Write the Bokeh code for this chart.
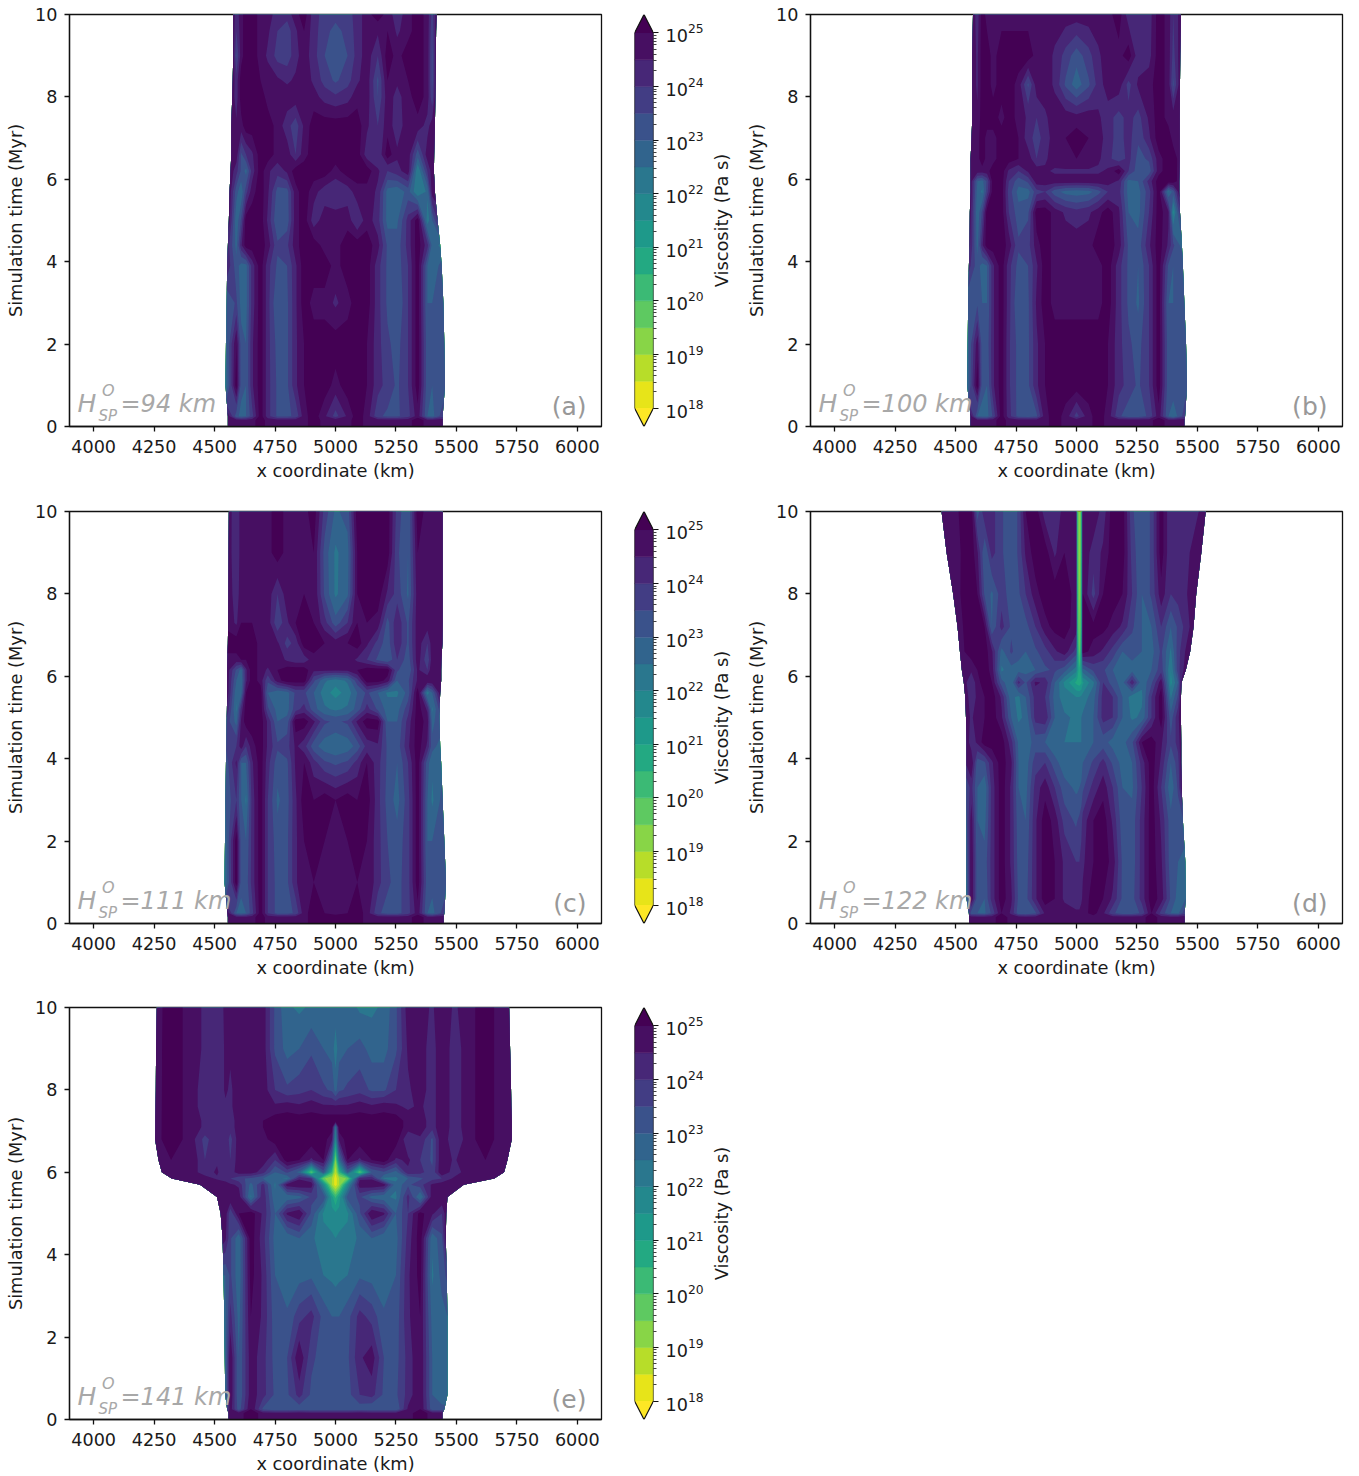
import numpy as np
from bokeh.embed import file_html
from bokeh.resources import INLINE
from bokeh.plotting import figure
from bokeh.layouts import column, row
from bokeh.models import FixedTicker, Label, LogTicker, Range1d
from bokeh.palettes import Viridis256

# ---------------- colour levels (log10 viscosity) ----------------
LEVELS = [18 + 0.5 * i for i in range(15)]
X_TICKS = [4000, 4250, 4500, 4750, 5000, 5250, 5500, 5750, 6000]
Y_TICKS = [0, 2, 4, 6, 8, 10]

# x positions (km) of the columns for panels a, b and c. Outer ones are pinned to the plate edges.
COLS_ABC = [0, 4590, 4610, 4630, 4655, 4690, 4720, 4760, 4800, 4835, 4870, 4910, 4955, 5000, 5050, 5090, 5130, 5175,
            5215, 5255, 5300, 5340, 5380, 5400, 9999]

# ---------------- panel (a) ----------------
TIMES_A = [10, 9.6, 9, 8.4, 8, 7.3, 6.6, 6.2, 5.7, 5, 4.4, 3.9, 3, 2, 1, .25, .15, 0]
LEFT_A = [4577, 4577, 4577, 4575, 4573, 4569, 4569, 4566, 4562, 4559, 4555, 4552, 4550, 4547, 4545, 4555, 4555, 4555]
RIGHT_A = [5418, 5416, 5415, 5414, 5413, 5411, 5408, 5407, 5411, 5422, 5433, 5439, 5446, 5450, 5453, 5443, 5443, 5443]
LOGV_A = [
 [24.8,24.2,24.8,25.3,25.3,24.8,24.8,24.2,24.2,24.8,25.3,24.2,23.8,23.7,23.8,24.2,24.8,25.3,24.8,24.2,24.8,25.3,24.8,23.8,24.8],
 [24.8,24.0,24.8,25.3,25.3,24.8,24.6,24.0,23.7,24.4,25.0,24.2,23.7,23.3,23.7,24.2,24.8,24.6,25.0,24.4,24.8,25.3,24.8,23.6,24.8],
 [24.8,23.4,24.8,25.3,25.3,24.8,24.4,23.8,23.7,24.3,24.8,24.2,23.5,23.1,23.5,24.2,24.8,24.0,25.3,24.8,25.3,25.3,24.8,23.4,24.8],
 [24.8,24.2,25.3,25.3,25.3,25.0,24.8,24.6,24.4,24.6,24.8,24.4,23.8,23.4,23.8,24.4,24.8,23.4,25.0,24.6,25.0,25.3,24.8,23.4,24.8],
 [24.8,24.2,25.3,25.3,25.3,25.3,24.8,24.8,24.8,24.8,24.8,24.7,24.3,24.1,24.3,24.8,24.8,23.5,24.8,24.3,24.8,25.3,24.8,23.6,24.8],
 [24.8,24.6,24.8,25.3,25.3,25.3,25.3,24.8,24.2,23.7,24.6,25.3,25.3,25.3,25.3,25.3,24.6,24.0,24.8,24.2,24.8,24.8,24.3,24.8,24.8],
 [24.8,24.8,23.4,24.0,24.4,25.3,25.3,24.8,24.8,24.0,24.8,25.3,25.3,25.3,25.3,25.3,24.2,24.0,25.3,24.6,24.8,23.2,24.8,24.8,24.8],
 [24.8,24.2,23.4,22.8,24.2,25.3,24.6,24.2,24.6,25.3,25.3,25.3,25.3,24.8,25.3,25.3,25.3,24.6,24.0,24.3,24.8,22.0,24.0,24.8,24.8],
 [24.8,23.2,22.6,23.8,24.8,25.3,24.6,23.3,23.3,24.8,25.3,24.7,24.2,24.0,24.2,24.8,24.8,24.4,22.8,22.6,23.2,22.0,22.6,24.8,24.8],
 [24.8,22.6,23.6,25.3,25.3,25.3,24.4,23.0,23.2,24.8,25.3,24.2,24.8,24.8,24.8,24.0,24.8,24.2,22.8,22.9,24.2,25.3,22.2,23.0,24.0],
 [24.2,22.8,24.4,25.3,25.3,25.3,24.8,23.6,23.9,24.8,25.3,25.3,24.8,24.8,25.3,25.3,25.3,24.7,23.4,23.2,24.2,25.3,24.2,22.8,22.4],
 [24.4,23.2,22.8,22.8,24.2,25.3,24.2,23.4,23.5,24.4,25.3,25.3,25.3,24.8,25.3,25.3,25.3,24.2,23.4,23.2,24.0,25.3,23.0,22.6,23.2],
 [23.0,23.6,22.8,22.8,24.2,25.3,24.2,23.0,23.4,24.4,25.3,24.8,24.8,24.4,24.8,25.3,25.3,24.2,23.4,23.0,24.0,25.3,23.0,23.0,23.4],
 [22.8,25.0,23.2,23.0,24.4,25.3,24.2,23.3,23.4,24.4,25.0,25.3,25.3,25.3,25.3,25.3,25.0,24.2,23.6,23.3,24.0,25.3,23.2,23.2,23.4],
 [22.4,25.3,23.2,23.0,24.4,25.3,24.2,23.4,23.4,24.4,25.0,25.3,25.3,24.8,25.3,25.3,25.0,24.2,23.8,23.4,24.0,25.3,23.2,23.0,23.2],
 [24.8,23.2,22.8,23.0,23.8,25.3,24.2,23.4,23.4,23.6,24.8,25.3,24.6,23.8,24.6,25.3,24.8,23.6,23.4,23.4,23.8,24.8,23.0,22.8,23.8],
 [24.8,24.8,24.8,24.8,24.8,25.3,24.8,24.8,24.8,24.8,24.8,25.3,24.8,24.8,24.8,25.3,24.8,24.8,24.8,24.8,24.8,25.3,24.8,24.8,24.8],
 [24.8,24.8,24.8,24.8,24.8,25.3,24.8,24.8,24.8,24.8,24.8,25.3,24.8,24.8,24.8,25.3,24.8,24.8,24.8,24.8,24.8,25.3,24.8,24.8,24.8],
]

# ---------------- panel (b) ----------------
TIMES_B = [10, 9, 8.3, 7.5, 7, 6.5, 6.2, 5.95, 5.7, 5.2, 4.4, 3.9, 3, 2, 1, .25, .15, 0]
LEFT_B = [4572, 4569, 4569, 4569, 4566, 4562, 4562, 4562, 4562, 4559, 4558, 4555, 4552, 4550, 4548, 4562, 4562, 4562]
RIGHT_B = [5432, 5429, 5428, 5427, 5427, 5427, 5426, 5425, 5425, 5428, 5436, 5440, 5446, 5453, 5457, 5449, 5446, 5446]
LOGV_B = [
 [24.8,24.2,25.3,24.8,24.8,24.8,24.8,24.8,24.8,24.8,24.8,24.8,24.8,24.8,24.8,24.8,24.8,25.3,24.2,24.0,24.2,25.3,24.8,24.0,24.8],
 [24.8,24.4,25.3,25.3,24.8,25.3,25.3,25.3,25.3,24.8,24.8,24.4,23.8,23.2,23.8,24.4,24.8,24.8,25.3,24.2,24.3,25.3,24.8,23.8,24.8],
 [24.8,24.4,25.3,25.3,24.8,25.3,25.3,24.8,23.4,24.8,24.8,24.4,23.4,22.7,23.4,24.2,24.8,24.8,23.8,24.6,24.8,25.3,24.8,23.4,24.8],
 [24.8,24.6,25.3,25.3,25.3,24.8,25.3,24.8,24.4,24.0,24.4,24.8,24.8,24.7,24.8,24.6,24.2,23.8,24.2,23.8,24.6,25.3,24.8,24.8,24.8],
 [24.8,24.8,25.3,24.8,24.8,25.3,25.3,25.0,24.2,23.8,24.2,24.8,25.0,25.3,25.0,24.8,24.2,23.8,24.2,23.6,24.4,25.3,25.3,24.8,24.8],
 [24.8,24.8,25.3,24.8,24.8,25.3,25.3,25.0,24.8,24.0,24.4,24.8,25.0,25.0,25.0,24.6,24.2,23.6,24.2,23.3,23.6,24.8,25.3,25.3,24.8],
 [24.8,24.8,24.8,24.8,25.3,25.3,24.4,24.0,24.6,24.8,24.6,24.4,24.4,24.4,24.4,24.4,24.6,25.3,24.0,23.2,23.2,24.8,25.3,25.3,24.8],
 [24.8,23.0,22.8,23.6,25.3,25.3,24.0,23.2,23.6,24.8,24.8,24.8,24.8,24.8,24.8,24.8,24.8,24.4,22.8,23.0,24.2,25.3,25.3,25.3,24.8],
 [24.8,22.8,22.4,23.8,25.3,25.3,23.8,22.8,22.8,23.8,24.0,23.2,22.8,22.7,22.8,23.3,24.0,24.2,22.8,22.8,23.8,25.3,22.4,23.2,24.8],
 [24.8,22.6,23.6,25.3,25.3,25.3,24.0,23.2,23.4,25.3,25.3,24.8,24.4,24.2,24.4,24.8,25.3,24.6,23.0,22.8,24.0,25.3,24.6,21.8,23.8],
 [24.6,22.8,24.4,25.3,25.3,25.3,24.8,23.6,23.8,24.8,25.3,24.8,24.8,24.8,24.8,25.3,25.3,24.8,23.4,23.2,24.4,25.3,24.4,23.6,22.8],
 [24.2,23.2,22.8,23.0,24.4,25.3,24.2,23.3,23.5,24.4,25.3,24.8,24.8,24.8,24.8,24.8,25.3,24.2,23.4,23.0,24.0,25.3,23.4,23.0,23.4],
 [23.0,23.4,23.0,23.0,24.4,25.3,24.2,23.0,23.4,24.6,25.3,24.8,24.8,24.8,24.8,24.8,25.3,24.2,23.4,22.9,24.0,25.3,23.0,23.0,23.4],
 [22.8,24.8,23.2,23.2,24.4,25.3,24.1,23.3,23.4,24.4,25.0,25.3,25.3,25.3,25.3,25.3,25.0,24.2,23.6,23.3,24.0,25.3,23.2,23.2,23.2],
 [22.6,25.3,23.2,23.0,24.4,25.3,24.1,23.3,23.4,24.4,25.0,25.3,25.3,25.3,25.3,25.3,25.0,24.2,23.8,23.4,24.0,25.3,23.2,23.4,23.4],
 [24.8,23.0,22.8,22.8,23.6,25.3,24.2,23.3,23.2,23.4,24.8,25.3,24.8,23.8,24.8,25.3,24.8,23.6,23.2,23.2,23.6,24.8,23.0,22.6,23.8],
 [24.8,24.8,24.8,24.8,24.8,25.3,24.8,24.8,24.8,24.8,24.8,25.3,24.8,24.8,24.8,25.3,24.8,24.8,24.8,24.8,24.8,25.3,24.8,24.8,24.8],
 [24.8,24.8,24.8,24.8,24.8,25.3,24.8,24.8,24.8,24.8,24.8,25.3,24.8,24.8,24.8,25.3,24.8,24.8,24.8,24.8,24.8,25.3,24.8,24.8,24.8],
]

# ---------------- panel (c) ----------------
TIMES_C = [10, 9, 8, 7.3, 6.8, 6.4, 6.15, 5.9, 5.6, 5.2, 4.9, 4.3, 3.9, 3, 2, 1, .25, .15, 0]
LEFT_C = [4559, 4558, 4557, 4556, 4555, 4553, 4552, 4552, 4552, 4551, 4550, 4549, 4547, 4545, 4543, 4541, 4553, 4555, 4555]
RIGHT_C = [5443, 5443, 5443, 5443, 5442, 5438, 5437, 5437, 5433, 5430, 5430, 5433, 5437, 5443, 5450, 5457, 5450, 5447, 5447]
LOGV_C = [
 [24.8,24.0,24.8,24.8,24.8,24.8,24.8,25.3,24.8,24.8,24.8,25.3,23.8,22.9,23.2,25.3,25.3,25.3,25.3,23.8,23.0,25.3,24.8,24.8,24.8],
 [24.8,24.0,24.8,24.8,24.8,24.8,24.8,25.3,24.8,24.8,24.8,25.0,23.3,22.4,22.8,25.0,25.3,25.3,25.3,23.6,23.0,25.0,24.8,24.8,24.8],
 [24.8,24.2,24.8,24.8,24.8,24.8,24.8,24.0,24.8,24.8,25.0,25.0,23.4,22.4,22.9,25.0,25.3,25.3,24.4,23.8,22.9,24.8,24.8,24.8,24.8],
 [24.8,24.4,25.0,25.0,25.0,24.8,24.8,23.6,24.4,25.0,25.3,25.0,24.2,23.2,24.0,25.0,25.0,24.8,23.3,24.4,23.4,24.8,24.8,24.8,24.8],
 [25.3,25.3,25.3,25.3,25.3,24.8,24.8,24.6,23.8,24.2,25.3,25.3,25.0,24.8,25.0,25.3,24.6,23.8,23.2,24.4,23.4,24.8,24.0,24.8,24.8],
 [24.8,24.8,25.0,25.0,25.3,24.8,24.8,24.8,24.4,24.2,24.2,24.8,24.8,24.8,24.8,24.4,24.0,23.4,23.0,24.0,23.2,24.8,23.6,24.8,24.8],
 [24.8,23.4,22.8,24.4,25.3,24.8,24.4,25.0,25.3,25.3,25.3,24.6,24.6,24.6,24.6,25.0,25.3,25.3,25.3,23.6,23.0,24.6,24.0,25.0,24.8],
 [24.8,23.0,22.6,24.4,25.3,24.8,23.6,24.8,25.3,25.3,25.3,23.6,22.6,22.2,22.6,23.8,25.3,25.3,24.8,23.0,23.4,24.6,25.0,25.0,24.8],
 [24.8,22.6,22.8,25.0,25.3,25.3,23.0,22.6,22.8,23.6,23.6,23.0,22.2,21.8,22.2,23.0,23.6,23.0,22.4,22.4,23.2,25.3,22.2,23.0,24.8],
 [24.4,22.4,24.2,25.3,25.3,25.3,23.6,22.8,22.8,23.8,24.2,23.2,22.6,22.4,22.6,23.2,24.2,23.4,22.8,22.8,23.8,25.3,24.4,22.4,23.6],
 [23.8,22.8,24.6,25.3,25.3,25.3,24.4,23.0,23.2,25.3,25.3,24.6,23.6,23.4,23.6,24.6,25.3,25.3,23.0,23.0,24.2,25.3,24.8,22.8,23.4],
 [23.6,24.0,24.8,24.0,24.8,25.3,24.4,23.6,23.8,24.6,24.2,23.2,22.7,22.5,22.7,23.2,24.2,24.4,23.4,23.2,24.4,25.3,24.4,23.2,22.8],
 [23.2,24.6,23.0,23.0,24.4,25.3,24.2,23.2,23.4,24.6,25.0,24.2,23.6,23.4,23.6,24.2,25.0,24.2,23.4,23.0,24.0,25.3,23.2,22.6,22.8],
 [23.0,24.0,23.0,22.4,24.2,25.3,24.0,22.9,23.3,24.4,25.3,25.0,25.3,25.0,25.3,25.0,25.3,24.2,23.3,22.8,23.8,25.3,23.0,22.4,23.2],
 [22.6,25.3,23.2,23.0,24.2,25.3,24.0,23.2,23.4,24.4,25.0,25.3,25.0,24.8,25.0,25.3,25.0,24.2,23.5,23.2,23.8,25.3,23.0,23.0,23.2],
 [22.4,25.3,23.2,23.2,24.2,25.3,24.0,23.3,23.4,24.4,25.0,25.0,24.8,24.6,24.8,25.0,25.0,24.2,23.6,23.3,23.8,25.3,23.2,23.2,23.2],
 [24.8,23.0,22.8,23.0,23.8,25.3,24.0,23.3,23.3,23.6,24.8,25.3,25.0,24.8,25.0,25.3,24.8,23.6,23.3,23.3,23.8,24.8,23.0,22.8,23.8],
 [24.8,24.8,24.8,24.8,24.8,25.3,24.8,24.8,24.8,24.8,24.8,25.3,25.3,25.3,25.3,25.3,24.8,24.8,24.8,24.8,24.8,25.3,24.8,24.8,24.8],
 [24.8,24.8,24.8,24.8,24.8,25.3,24.8,24.8,24.8,24.8,24.8,25.3,25.3,25.3,25.3,25.3,24.8,24.8,24.8,24.8,24.8,25.3,24.8,24.8,24.8],
]

# ---------------- panel (d) ----------------
COLS_D = [0, 4565, 4590, 4620, 4650, 4690, 4730, 4760, 4790, 4830, 4870, 4910, 4950, 4998, 5004, 5012, 5020, 5026, 5070, 5110, 5150,
          5190, 5230, 5270, 5310, 5350, 5390, 5420, 9999]
TIMES_D = [10, 9, 8, 7.2, 6.6, 6.15, 5.85, 5.5, 5, 4.4, 3.9, 3.3, 2.5, 1.5, .6, .25, .15, 0]
LEFT_D = [4442, 4463, 4490, 4508, 4518, 4526, 4534, 4540, 4543, 4545, 4545, 4545, 4545, 4545, 4545, 4555, 4556, 4556]
RIGHT_D = [5534, 5516, 5495, 5484, 5470, 5452, 5434, 5432, 5432, 5433, 5433, 5435, 5440, 5450, 5452, 5447, 5447, 5447]
LOGV_D = [
 [24.6,25.3,23.2,24.4,24.2,23.6,23.0,23.6,25.0,25.3,24.2,24.0,24.8,24.6,20.0,19.2,20.0,25.0,25.0,24.2,25.3,25.3,23.6,23.0,23.6,25.3,24.0,24.2,24.6],
 [24.6,25.3,24.6,23.0,24.2,23.6,23.0,23.6,24.6,25.3,25.3,24.4,25.0,24.8,20.0,19.2,20.0,25.0,24.2,24.6,25.3,25.3,23.8,23.0,23.6,25.3,24.0,24.4,24.6],
 [24.8,25.3,25.0,23.4,22.9,23.8,23.2,23.4,24.0,24.8,25.3,25.3,25.3,24.8,20.2,19.3,20.2,25.0,23.8,25.0,25.3,25.0,24.0,23.0,23.6,24.8,24.0,24.2,24.8],
 [24.8,25.3,25.3,25.0,23.0,24.2,23.4,23.2,23.3,24.0,24.8,25.2,25.2,24.8,20.4,19.5,20.4,25.2,25.2,25.2,24.8,24.4,23.6,23.0,23.0,24.0,23.0,23.6,24.8],
 [24.8,25.3,25.3,25.3,24.6,22.8,23.6,23.2,23.0,23.4,23.8,24.4,24.8,23.8,21.0,19.8,21.0,25.2,24.8,24.4,23.8,23.0,23.2,23.0,22.8,23.6,22.4,23.8,25.0],
 [24.8,24.6,25.0,25.3,24.8,22.4,22.8,22.8,22.8,23.0,23.4,23.6,23.2,22.2,21.4,20.6,21.4,22.8,23.6,23.6,23.0,22.6,22.8,22.6,23.0,23.8,22.0,23.8,24.8],
 [24.8,24.0,24.8,25.3,25.0,23.2,22.6,24.2,23.4,24.6,24.4,23.0,21.9,20.9,20.8,20.7,20.9,21.4,22.4,24.0,23.2,22.8,24.4,22.6,23.4,24.8,21.8,23.0,24.8],
 [24.8,24.2,24.6,25.0,25.3,24.4,22.6,22.4,23.0,24.2,24.0,22.8,22.2,22.0,22.0,22.0,22.1,22.2,22.8,24.2,24.0,23.0,22.2,22.4,24.0,25.3,22.4,23.6,24.8],
 [24.8,24.4,24.8,25.0,25.3,24.6,23.0,22.4,22.6,24.2,24.4,23.0,22.6,22.4,22.4,22.4,22.5,22.6,23.0,24.2,24.0,23.0,22.4,22.6,24.0,25.3,23.2,24.4,24.8],
 [24.8,24.2,24.6,25.3,25.3,25.3,24.2,22.9,22.7,23.2,23.0,22.6,22.5,22.5,22.5,22.5,22.5,22.6,23.0,23.2,22.8,22.8,23.4,25.0,25.3,24.6,23.6,24.2,24.8],
 [24.6,25.0,23.2,23.4,24.4,25.3,24.6,23.0,22.7,23.8,24.0,23.2,22.7,22.6,22.6,22.6,22.7,23.0,23.6,24.2,23.4,22.8,23.0,24.2,25.3,24.4,23.0,23.8,24.8],
 [23.6,24.2,23.0,22.6,24.2,25.3,24.4,23.0,22.8,24.2,24.8,24.0,23.2,22.9,22.9,23.0,23.1,23.4,24.2,24.8,24.0,23.0,22.9,24.0,25.3,24.0,22.6,23.6,24.8],
 [23.4,24.8,23.0,22.8,24.2,25.3,24.4,23.2,23.0,24.4,25.3,24.8,23.8,23.4,23.5,23.6,23.8,24.2,25.0,25.3,24.4,23.2,23.2,24.2,25.3,24.4,23.2,23.2,23.4],
 [23.0,25.0,23.2,23.2,24.2,25.3,24.4,23.3,23.2,24.4,25.3,25.0,24.4,24.0,24.0,24.0,24.2,24.4,25.0,25.3,24.8,23.4,23.2,24.2,25.3,24.6,23.2,23.0,22.8],
 [22.8,25.0,23.2,23.0,24.2,25.3,24.6,23.4,23.3,24.4,25.3,25.0,24.4,24.2,24.2,24.2,24.4,24.6,25.3,25.0,24.4,23.4,23.3,24.2,25.3,24.8,23.4,22.8,23.0],
 [24.0,23.2,23.0,22.9,23.6,25.0,24.4,23.2,23.0,23.4,24.6,25.0,24.8,24.6,24.6,24.6,24.7,24.8,25.2,24.6,23.6,23.2,23.2,23.6,25.0,23.8,23.0,22.9,23.8],
 [24.8,24.8,24.8,24.8,24.8,25.3,24.8,24.8,24.8,24.8,24.8,24.8,24.8,24.8,24.8,24.8,24.8,24.8,24.8,24.8,24.8,24.8,24.8,24.8,25.3,24.8,24.8,24.8,24.8],
 [24.8,24.8,24.8,24.8,24.8,25.3,24.8,24.8,24.8,24.8,24.8,24.8,24.8,24.8,24.8,24.8,24.8,24.8,24.8,24.8,24.8,24.8,24.8,24.8,25.3,24.8,24.8,24.8,24.8],
]

# ---------------- panel (e) ----------------
COLS_E = [0, 4320, 4400, 4460, 4510, 4545, 4565, 4600, 4650, 4700, 4750, 4800, 4850, 4900, 4950, 4985, 5000, 5015, 5050,
          5100, 5150, 5200, 5250, 5300, 5350, 5400, 5440, 5490, 5550, 5620, 5680, 9999]
TIMES_E = [10, 9, 8, 7.6, 7.25, 7.1, 6.8, 6.3, 6, 5.85, 5.7, 5.4, 5, 4.4, 3.5, 2.5, 1.5, .6, .25, .15, 0]
LEFT_E = [4261, 4258, 4257, 4256, 4255, 4255, 4254, 4268, 4282, 4323, 4440, 4510, 4525, 4533, 4537, 4540, 4542, 4544, 4552, 4558, 4558]
RIGHT_E = [5718, 5722, 5726, 5727, 5729, 5729, 5729, 5711, 5697, 5656, 5530, 5463, 5458, 5456, 5460, 5463, 5463, 5463, 5450, 5442, 5442]
LOGV_E = [
 [24.8,25.3,24.8,24.4,24.2,24.6,24.6,24.8,24.8,24.8,23.4,22.6,22.4,22.6,22.8,22.8,22.8,22.8,22.8,22.4,22.4,22.6,23.4,24.8,24.8,24.4,25.0,24.4,24.8,25.3,24.8,24.8],
 [24.8,25.3,24.8,24.4,24.0,24.6,24.6,24.8,24.8,24.8,23.4,22.8,23.0,23.4,23.0,22.8,22.2,22.8,23.0,23.2,22.8,22.8,23.4,24.6,24.8,24.2,25.0,24.2,24.8,25.3,24.8,24.8],
 [24.8,25.3,24.8,24.2,24.0,24.6,24.4,24.8,24.8,24.8,24.0,23.6,23.8,24.0,23.6,23.4,22.8,23.4,23.6,23.8,23.4,23.4,24.0,24.4,24.8,24.2,25.0,24.2,24.8,25.3,24.8,24.8],
 [24.8,25.3,24.8,24.2,24.0,24.4,24.4,24.8,24.8,24.8,24.6,24.8,24.6,24.8,24.6,24.6,24.6,24.6,24.6,24.8,24.6,24.8,24.6,24.4,24.6,24.2,25.0,24.2,24.8,25.3,24.8,24.8],
 [24.8,25.3,24.8,24.4,24.2,24.4,24.2,24.8,24.8,25.0,25.3,25.3,25.3,25.3,25.3,25.3,25.3,25.3,25.3,25.3,25.3,25.3,25.3,24.8,24.8,24.2,25.0,24.2,24.8,25.3,24.8,24.8],
 [24.8,25.3,24.8,24.4,24.2,24.4,24.2,24.8,24.8,25.0,25.3,25.3,25.3,25.3,25.3,25.3,22.4,25.3,25.3,25.3,25.3,25.3,25.3,24.8,24.8,24.2,25.0,24.2,24.8,25.3,24.8,24.8],
 [24.8,25.3,24.8,23.8,24.4,24.4,23.8,24.8,24.8,24.8,25.3,25.3,25.3,25.3,25.3,24.6,21.8,24.6,25.3,25.3,25.3,25.3,25.3,24.0,24.4,23.4,25.0,24.0,24.8,25.3,24.8,24.8],
 [24.8,25.0,25.0,24.0,24.4,24.4,24.0,24.8,25.0,24.8,24.0,25.3,25.0,24.4,25.0,22.6,19.4,22.6,25.0,24.4,25.0,25.3,24.4,24.6,24.0,23.4,25.0,24.4,25.0,25.0,24.8,24.8],
 [24.8,24.8,24.8,24.2,24.6,24.0,24.2,24.8,24.8,24.2,23.0,23.6,22.8,19.9,23.2,20.4,18.6,20.4,23.0,19.9,23.0,23.4,22.8,24.4,24.2,23.6,25.0,24.2,24.8,24.8,24.8,24.8],
 [24.8,24.8,24.8,24.8,24.4,24.2,24.0,23.6,23.4,23.0,22.6,22.4,24.4,24.0,19.6,19.0,18.2,19.0,19.6,24.4,24.4,22.4,22.4,23.0,23.4,23.8,24.0,24.6,24.8,24.8,24.8,24.8],
 [24.8,24.8,24.8,24.8,25.0,24.8,24.6,24.4,22.8,24.2,22.4,24.8,25.0,24.8,21.8,19.0,18.2,19.0,21.8,24.8,25.0,24.8,22.6,23.4,23.8,24.6,24.8,24.8,24.8,24.8,24.8,24.8],
 [24.8,24.8,24.8,24.8,24.8,25.0,25.0,24.8,22.4,24.4,22.6,22.6,22.8,23.6,23.4,21.2,20.4,21.2,23.2,23.6,22.8,22.6,22.4,24.2,22.4,24.8,25.0,24.8,24.8,24.8,24.8,24.8],
 [24.8,24.8,24.8,24.8,24.8,24.8,23.6,25.0,25.3,24.4,23.0,24.6,25.0,23.4,21.9,21.7,21.6,21.7,21.9,23.4,25.0,24.6,23.0,24.0,25.2,24.6,24.0,24.8,24.8,24.8,24.8,24.8],
 [24.8,24.8,24.8,24.8,24.8,24.6,23.6,22.6,25.3,24.2,22.8,22.6,23.0,22.6,22.2,22.1,22.0,22.1,22.2,22.6,23.0,22.6,22.8,24.2,25.3,22.6,23.4,24.8,24.8,24.8,24.8,24.8],
 [23.0,23.0,23.0,23.0,23.0,23.0,23.6,22.6,25.2,24.4,23.0,22.6,22.8,22.9,22.5,22.4,22.3,22.4,22.5,22.9,22.8,22.6,23.0,24.4,25.2,22.4,23.2,23.6,23.6,23.6,23.6,23.6],
 [22.8,22.8,22.8,22.8,22.8,22.8,24.2,22.8,25.0,24.4,23.2,23.1,23.8,24.2,23.3,23.0,23.0,23.0,23.3,24.2,23.8,23.1,23.2,24.4,25.0,22.8,22.8,23.0,23.0,23.0,23.0,23.0],
 [22.8,22.8,22.8,22.8,22.8,22.8,25.0,23.0,24.8,24.2,23.3,23.5,25.0,23.6,23.3,23.2,23.2,23.2,23.4,24.4,24.8,23.5,23.3,24.2,25.0,23.0,22.6,22.6,22.6,22.6,22.6,22.6],
 [22.8,22.8,22.8,22.8,22.8,22.8,25.0,23.0,24.8,24.2,23.4,23.4,24.2,23.4,23.3,23.2,23.1,23.2,23.3,24.0,24.2,23.4,23.4,24.2,25.0,23.0,22.6,22.6,22.6,22.6,22.6,22.6],
 [23.6,23.6,23.6,23.6,23.6,23.6,24.8,23.2,25.0,23.4,23.0,23.0,23.2,23.0,23.0,23.0,23.0,23.0,23.0,23.2,23.0,23.0,23.0,24.6,25.0,23.2,23.2,23.2,23.2,23.2,23.2,23.2],
 [24.8,24.8,24.8,24.8,24.8,24.8,24.8,24.8,25.3,24.8,24.8,24.8,24.8,24.8,24.8,24.8,24.8,24.8,24.8,24.8,24.8,24.8,24.8,24.8,25.3,24.8,24.8,24.8,24.8,24.8,24.8,24.8],
 [24.8,24.8,24.8,24.8,24.8,24.8,24.8,24.8,25.3,24.8,24.8,24.8,24.8,24.8,24.8,24.8,24.8,24.8,24.8,24.8,24.8,24.8,24.8,24.8,25.3,24.8,24.8,24.8,24.8,24.8,24.8,24.8],
]

THICKNESSES = ["=94 km", "=100 km", "=111 km", "=122 km", "=141 km"]
PANEL_TAGS = ["(a)", "(b)", "(c)", "(d)", "(e)"]

# ---------------- colours ----------------
VIR_R = list(reversed(Viridis256))
BAND_COLORS = [VIR_R[int((i + 0.5) / 14 * 255)] for i in range(14)]
UNDER, OVER = "#fde725", "#440154"

FONT = "DejaVu Sans"
KM_PER_PX = 2200 / 532
MYR_PER_PX = 10 / 412
TICK_PX = "17.6px"
LABEL_PX = "17.8px"


def panel(times, cols, left, right, logv, name, tag, width, height, border_left, border_bottom):
    p = figure(width=width, height=height, output_backend="svg", toolbar_location=None,
               x_range=Range1d(3900, 6100), y_range=Range1d(0, 10),
               min_border_left=border_left, min_border_right=width - border_left - 532, min_border_top=14,
               min_border_bottom=border_bottom, background_fill_color="white", border_fill_color=None)
    p.grid.visible = False
    p.outline_line_color = "#111111"
    p.outline_line_width = 1.3
    p.xaxis.ticker = FixedTicker(ticks=X_TICKS)
    p.yaxis.ticker = FixedTicker(ticks=Y_TICKS)
    p.xaxis.axis_label = "x coordinate (km)"
    p.yaxis.axis_label = "Simulation time (Myr)"
    for ax in (p.xaxis[0], p.yaxis[0]):
        ax.major_tick_in = 0
        ax.major_tick_out = 5
        ax.minor_tick_out = 0
        ax.minor_tick_in = 0
        ax.major_tick_line_width = 1.3
        ax.major_tick_line_color = "#111111"
        ax.axis_line_color = "#111111"
        ax.axis_line_width = 1.3
        ax.major_label_text_font = FONT
        ax.major_label_text_font_size = TICK_PX
        ax.major_label_text_color = "#1a1a1a"
        ax.axis_label_text_font = FONT
        ax.axis_label_text_font_size = LABEL_PX
        ax.axis_label_text_font_style = "normal"
        ax.axis_label_text_color = "#1a1a1a"
    p.xaxis.major_label_standoff = 8
    p.xaxis.axis_label_standoff = 4
    p.yaxis.major_label_standoff = 7
    p.yaxis.axis_label_standoff = 6

    t = np.array(times, dtype=float)[::-1]
    z = np.array(logv, dtype=float)[::-1]
    c = np.array(cols, dtype=float)
    lo = np.array(left, dtype=float)[::-1]
    hi = np.array(right, dtype=float)[::-1]
    x2 = np.clip(c[None, :], lo[:, None], hi[:, None])
    y2 = np.repeat(t[:, None], len(c), axis=1)

    # painter's stack: each layer covers everything above its lower level, so bands leave no seams
    p.contour(x2, y2, z, levels=[0, 99], fill_color=[UNDER])
    for lev, col in zip(LEVELS[:-1], BAND_COLORS):
        p.contour(x2, y2, z, levels=[lev, 99], fill_color=[col])
    p.contour(x2, y2, z, levels=[LEVELS[-1], 99], fill_color=[OVER])

    grey = "#a8a8a8"
    def put(px, up, txt, size, color=grey, style="italic", align="left"):
        p.add_layout(Label(x=3900 + px * KM_PER_PX, y=up * MYR_PER_PX, text=txt, text_font=FONT,
                           text_font_size=size, text_font_style=style, text_color=color,
                           text_align=align, text_baseline="alphabetic"))
    put(8, 23, "H", "25px")
    put(32.5, 36, "O", "16px")
    put(29, 11, "SP", "15px")
    put(51, 23, name, "24px")
    put(517, 20, tag, "25px", color="#989898", style="normal", align="right")
    return p


def colourbar(height, border_bottom):
    lo, hi = 17.655, 25.345
    cb = figure(width=90, height=height, output_backend="svg", toolbar_location=None,
                x_range=Range1d(0, 1), y_range=Range1d(10 ** lo, 10 ** hi), y_axis_type="log",
                y_axis_location="right", min_border_left=17, min_border_right=54, min_border_top=14,
                min_border_bottom=border_bottom, outline_line_color=None, background_fill_color=None,
                border_fill_color=None)
    cb.grid.visible = False
    cb.xaxis.visible = False
    ax = cb.yaxis[0]
    ax.ticker = LogTicker(desired_num_ticks=8, num_minor_ticks=10)
    ax.bounds = (10.0 ** LEVELS[0], 10.0 ** LEVELS[-1])
    ax.axis_line_color = None
    ax.major_tick_in = 0
    ax.major_tick_out = 5
    ax.minor_tick_in = 0
    ax.minor_tick_out = 3
    ax.major_tick_line_color = "#111111"
    ax.minor_tick_line_color = "#111111"
    ax.major_tick_line_width = 1.2
    ax.minor_tick_line_width = 0.8
    ax.major_label_text_font = FONT
    ax.major_label_text_font_size = TICK_PX
    ax.major_label_text_color = "#1a1a1a"
    ax.major_label_standoff = 7

    bottoms = [10.0 ** v for v in LEVELS[:-1]]
    tops = [10.0 ** v for v in LEVELS[1:]]
    cb.quad(left=0, right=1, bottom=bottoms, top=tops, fill_color=BAND_COLORS, line_color=BAND_COLORS, line_width=0.5)
    ymin, ymax = 10.0 ** LEVELS[0], 10.0 ** LEVELS[-1]
    cb.patch([0, 1, 0.5], [ymax, ymax, 10 ** hi], fill_color=OVER, line_color=None)
    cb.patch([0, 1, 0.5], [ymin, ymin, 10 ** lo], fill_color=UNDER, line_color=None)
    cb.line([0, 0, 0.5, 1, 1, 0.5, 0], [ymin, ymax, 10 ** hi, ymax, ymin, 10 ** lo, ymin], line_color="#111111",
            line_width=1.2)

    # the colour-bar title sits in a narrow neighbour whose left axis reads bottom to top
    title = figure(width=30, height=height, output_backend="svg", toolbar_location=None,
                   x_range=Range1d(0, 1), y_range=Range1d(0, 1), min_border_left=22, min_border_right=0,
                   min_border_top=14, min_border_bottom=border_bottom, outline_line_color=None,
                   background_fill_color=None, border_fill_color=None)
    title.grid.visible = False
    title.xaxis.visible = False
    tax = title.yaxis[0]
    tax.ticker = FixedTicker(ticks=[])
    tax.axis_line_color = None
    tax.major_tick_line_color = None
    tax.minor_tick_line_color = None
    tax.major_tick_out = 0
    tax.major_label_standoff = 0
    tax.axis_label_standoff = 0
    tax.axis_label = "Viscosity (Pa s)"
    tax.axis_label_text_font = FONT
    tax.axis_label_text_font_size = LABEL_PX
    tax.axis_label_text_font_style = "normal"
    tax.axis_label_text_color = "#1a1a1a"
    title.line([0, 1], [0.5, 0.5], line_alpha=0)
    return cb, title


H1, B1 = 497, 71
H2, B2 = 496, 70
H3, B3 = 483, 57
pa = panel(TIMES_A, COLS_ABC, LEFT_A, RIGHT_A, LOGV_A, THICKNESSES[0], PANEL_TAGS[0], 617, H1, 69, B1)
pb = panel(TIMES_B, COLS_ABC, LEFT_B, RIGHT_B, LOGV_B, THICKNESSES[1], PANEL_TAGS[1], 614, H1, 73, B1)
pc = panel(TIMES_C, COLS_ABC, LEFT_C, RIGHT_C, LOGV_C, THICKNESSES[2], PANEL_TAGS[2], 617, H2, 69, B2)
pd_ = panel(TIMES_D, COLS_D, LEFT_D, RIGHT_D, LOGV_D, THICKNESSES[3], PANEL_TAGS[3], 614, H2, 73, B2)
pe = panel(TIMES_E, COLS_E, LEFT_E, RIGHT_E, LOGV_E, THICKNESSES[4], PANEL_TAGS[4], 617, H3, 69, B3)

page = column(row(pa, *colourbar(H1, B1), pb), row(pc, *colourbar(H2, B2), pd_), row(pe, *colourbar(H3, B3)))
open("out.html", "w").write(file_html(page, INLINE))
